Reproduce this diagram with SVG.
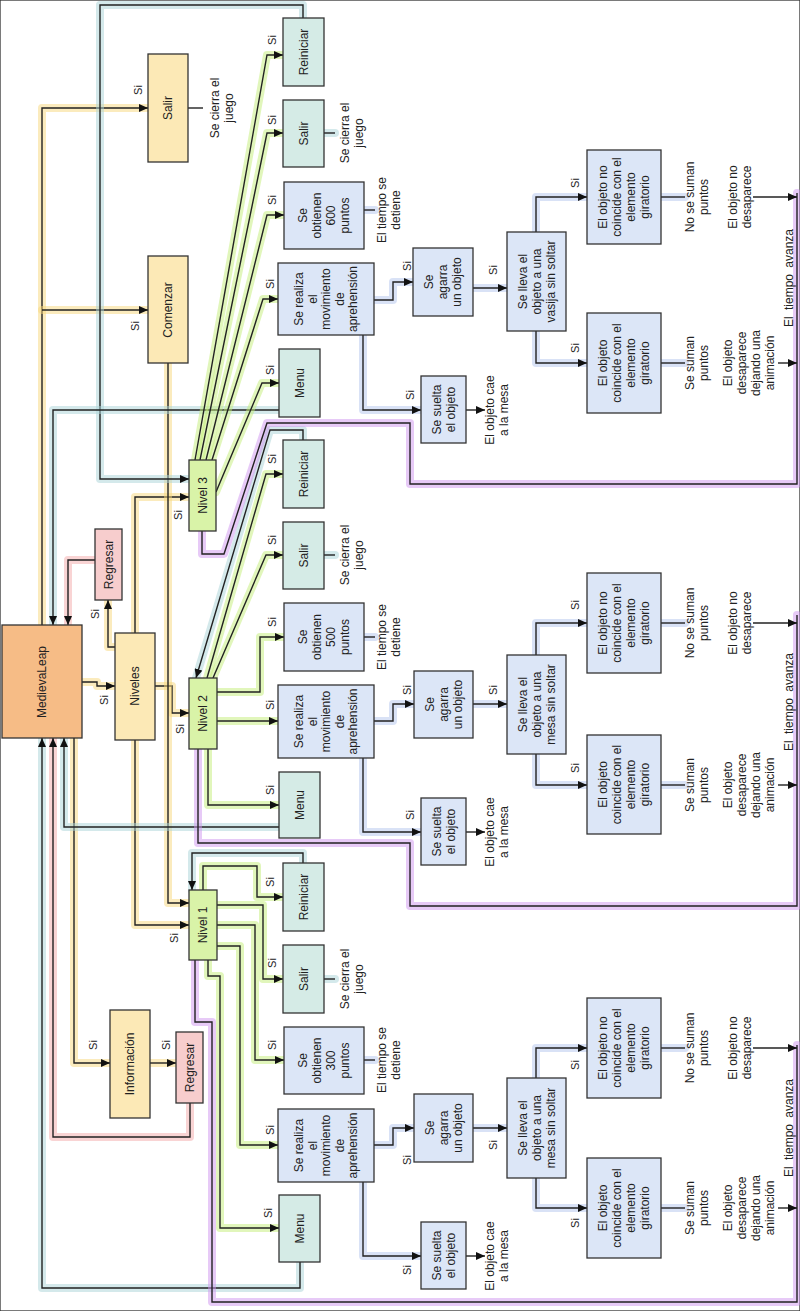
<svg xmlns="http://www.w3.org/2000/svg" width="800" height="1311" viewBox="0 0 800 1311">
<defs>
<marker id="a" markerUnits="userSpaceOnUse" markerWidth="9" markerHeight="8" refX="9" refY="4" orient="auto"><path d="M0,0 L9,4 L0,8 z" fill="#111"/></marker>
<style>
rect{stroke:#333;stroke-width:1.3}
.or{fill:#f6bc86}.ye{fill:#fce9b6}.pk{fill:#f7cdcd}.gr{fill:#d9f3a8}.te{fill:#d5ebe6}.bl{fill:#dce6f7}
text{font-family:"Liberation Sans",Arial,sans-serif;font-size:12px;fill:#222;text-anchor:middle}
.si{font-size:11px}
.gl{fill:none;stroke-width:8;stroke-opacity:0.5;stroke-linejoin:round;stroke-linecap:round}
.gy{stroke:#f7d77c}.gg{stroke:#c3ee78}.gt{stroke:#a9d3d8}.gp{stroke:#f3a9a9}.gv{stroke:#cf96ef}.gb{stroke:#b3c5ee}
.ln{fill:none;stroke:#222;stroke-width:1.4;stroke-linejoin:miter}
.ar{marker-end:url(#a)}
</style>
</defs>
<rect x="0" y="0" width="800" height="1311" fill="#fff" stroke="none"/>

<g id="connectors">
<!-- yellow -->
<path class="gl gy" d="M42,625 V108 H148"/><path class="ln ar" d="M42,625 V108 H148"/>
<path class="gl gy" d="M42,310 H148"/><path class="ln ar" d="M42,310 H148"/>
<path class="gl gy" d="M82,682 H97 V686 H115"/><path class="ln ar" d="M82,682 H97 V686 H115"/>
<path class="gl gy" d="M115,647 H108 V600"/><path class="ln ar" d="M115,647 H108 V600"/>
<path class="gl gy" d="M135,633 V497 H189"/><path class="ln ar" d="M135,633 V497 H189"/>
<path class="gl gy" d="M155,686 H172 V713 H189"/><path class="ln ar" d="M155,686 H172 V713 H189"/>
<path class="gl gy" d="M135,740 V925 H189"/><path class="ln ar" d="M135,740 V925 H189"/>
<path class="gl gy" d="M168,363 V903 H189"/><path class="ln ar" d="M168,363 V903 H189"/>
<path class="gl gy" d="M74,738 V1063 H110"/><path class="ln ar" d="M74,738 V1063 H110"/>
<path class="gl gy" d="M150,1063 H176"/><path class="ln ar" d="M150,1063 H176"/>
<!-- pink -->
<path class="gl gp" d="M95,560 H68 V625"/><path class="ln ar" d="M95,560 H68 V625"/>
<path class="gl gp" d="M190,1103 V1137 H53 V738"/><path class="ln ar" d="M190,1103 V1137 H53 V738"/>
<!-- teal -->
<path class="gl gt" d="M303,18 V5 H100 V479 H189"/><path class="ln ar" d="M303,18 V5 H100 V479 H189"/>
<path class="gl gt" d="M279,410 H53 V625"/><path class="ln ar" d="M279,410 H53 V625"/>
<path class="gl gt" d="M303,440 V430 H270 L196,678"/><path class="ln ar" d="M303,440 V430 H270 L196,678"/>
<path class="gl gt" d="M279,827 H64 V738"/><path class="ln ar" d="M279,827 H64 V738"/>
<path class="gl gt" d="M303,863 V853 H192 V890"/><path class="ln ar" d="M303,863 V853 H192 V890"/>
<path class="gl gt" d="M300,1262 V1288 H42 V738"/><path class="ln ar" d="M300,1262 V1288 H42 V738"/>
<!-- green L3 -->
<path class="gl gg" d="M195,460 L267,55 H283"/><path class="ln ar" d="M195,460 L267,55 H283"/>
<path class="gl gg" d="M200,460 L267,133 H283"/><path class="ln ar" d="M200,460 L267,133 H283"/>
<path class="gl gg" d="M206,460 L267,215 H284"/><path class="ln ar" d="M206,460 L267,215 H284"/>
<path class="gl gg" d="M212,460 L263,299 H278"/><path class="ln ar" d="M212,460 L263,299 H278"/>
<path class="gl gg" d="M216,492 L262,383 H279"/><path class="ln ar" d="M216,492 L262,383 H279"/>
<!-- green L2 -->
<path class="gl gg" d="M207,678 L266,474 H283"/><path class="ln ar" d="M207,678 L266,474 H283"/>
<path class="gl gg" d="M213,678 L266,555 H283"/><path class="ln ar" d="M213,678 L266,555 H283"/>
<path class="gl gg" d="M217,692 H260 V637 H284"/><path class="ln ar" d="M217,692 H260 V637 H284"/>
<path class="gl gg" d="M217,721 H278"/><path class="ln ar" d="M217,721 H278"/>
<path class="gl gg" d="M208,749 V805 H279"/><path class="ln ar" d="M208,749 V805 H279"/>
<!-- green L1 -->
<path class="gl gg" d="M203,890 V866 H257 V897 H283"/><path class="ln ar" d="M203,890 V866 H257 V897 H283"/>
<path class="gl gg" d="M217,905 H263 V979 H283"/><path class="ln ar" d="M217,905 H263 V979 H283"/>
<path class="gl gg" d="M217,925 H255 V1060 H284"/><path class="ln ar" d="M217,925 H255 V1060 H284"/>
<path class="gl gg" d="M217,946 H240 V1145 H278"/><path class="ln ar" d="M217,946 H240 V1145 H278"/>
<path class="gl gg" d="M208,960 V976 H220 V1228 H279"/><path class="ln ar" d="M208,960 V976 H220 V1228 H279"/>
<!-- purple -->
<path class="gl gv" d="M202,531 V554 H224 L267,423 H410 V484 H797 V193"/><path class="ln" d="M202,531 V554 H224 L267,423 H410 V484 H797 V193"/>
<path class="gl gv" d="M198,749 V843 H410 V906 H797 V615"/><path class="ln" d="M198,749 V843 H410 V906 H797 V615"/>
<path class="gl gv" d="M195,960 V1022 H212 V1302 H797 V1045"/><path class="ln" d="M195,960 V1022 H212 V1302 H797 V1045"/>
<!-- blue L3 -->
<path class="gl gb" d="M374,300 H393 V282 H413"/><path class="ln ar" d="M374,300 H393 V282 H413"/>
<path class="gl gb" d="M473,288 H507"/><path class="ln ar" d="M473,288 H507"/>
<path class="gl gb" d="M536,232 V197 H587"/><path class="ln ar" d="M536,232 V197 H587"/>
<path class="gl gb" d="M536,331 V363 H587"/><path class="ln ar" d="M536,331 V363 H587"/>
<path class="gl gb" d="M363,335 V410 H421"/><path class="ln ar" d="M363,335 V410 H421"/>
<path class="ln ar" d="M466,410 H485"/>
<path class="gl gb" d="M661,197 H685"/><path class="ln" d="M661,197 H685"/>
<path class="ln ar" d="M753,197 H797"/>
<path class="gl gb" d="M661,363 H685"/><path class="ln" d="M661,363 H685"/>
<path class="ln ar" d="M778,363 H797"/>
<path class="gl gb" d="M364,210 H375"/><path class="ln" d="M364,210 H375"/>
<path class="gl gt" d="M324,133 H335"/><path class="ln" d="M324,133 H335"/>
<path class="ln" d="M188,108 H203"/>
<!-- blue L2 -->
<path class="gl gb" d="M374,721 H393 V704 H414"/><path class="ln ar" d="M374,721 H393 V704 H414"/>
<path class="gl gb" d="M473,704 H507"/><path class="ln ar" d="M473,704 H507"/>
<path class="gl gb" d="M536,655 V623 H587"/><path class="ln ar" d="M536,655 V623 H587"/>
<path class="gl gb" d="M536,754 V785 H587"/><path class="ln ar" d="M536,754 V785 H587"/>
<path class="gl gb" d="M363,758 V832 H421"/><path class="ln ar" d="M363,758 V832 H421"/>
<path class="ln ar" d="M466,832 H485"/>
<path class="gl gb" d="M661,623 H685"/><path class="ln" d="M661,623 H685"/>
<path class="ln ar" d="M753,623 H797"/>
<path class="gl gb" d="M661,785 H685"/><path class="ln" d="M661,785 H685"/>
<path class="ln ar" d="M778,785 H797"/>
<path class="gl gb" d="M364,637 H375"/><path class="ln" d="M364,637 H375"/>
<path class="gl gt" d="M324,555 H335"/><path class="ln" d="M324,555 H335"/>
<!-- blue L1 -->
<path class="gl gb" d="M374,1145 H393 V1128 H414"/><path class="ln ar" d="M374,1145 H393 V1128 H414"/>
<path class="gl gb" d="M473,1128 H507"/><path class="ln ar" d="M473,1128 H507"/>
<path class="gl gb" d="M536,1078 V1048 H587"/><path class="ln ar" d="M536,1078 V1048 H587"/>
<path class="gl gb" d="M536,1178 V1208 H587"/><path class="ln ar" d="M536,1178 V1208 H587"/>
<path class="gl gb" d="M363,1182 V1256 H421"/><path class="ln ar" d="M363,1182 V1256 H421"/>
<path class="ln ar" d="M466,1256 H485"/>
<path class="gl gb" d="M661,1048 H685"/><path class="ln" d="M661,1048 H685"/>
<path class="ln ar" d="M753,1048 H797"/>
<path class="gl gb" d="M661,1208 H685"/><path class="ln" d="M661,1208 H685"/>
<path class="ln ar" d="M778,1208 H797"/>
<path class="gl gb" d="M364,1060 H375"/><path class="ln" d="M364,1060 H375"/>
<path class="gl gt" d="M324,979 H335"/><path class="ln" d="M324,979 H335"/>
</g>

<!-- main nodes -->
<g id="n-medievaleap"><rect class="or" x="2" y="625" width="80" height="113"/><text transform="translate(42,682) rotate(-90)"><tspan x="0" y="4">MedievaLeap</tspan></text></g>
<g id="n-salir"><rect class="ye" x="148" y="54" width="40" height="108"/><text transform="translate(168,108) rotate(-90)"><tspan x="0" y="4">Salir</tspan></text></g>
<g id="n-comenzar"><rect class="ye" x="148" y="256" width="40" height="107"/><text transform="translate(168,310) rotate(-90)"><tspan x="0" y="4">Comenzar</tspan></text></g>
<g id="n-niveles"><rect class="ye" x="115" y="633" width="40" height="107"/><text transform="translate(135,686) rotate(-90)"><tspan x="0" y="4">Niveles</tspan></text></g>
<g id="n-regresar1"><rect class="pk" x="95" y="529" width="27" height="71"/><text transform="translate(108.5,564.5) rotate(-90)"><tspan x="0" y="4">Regresar</tspan></text></g>
<g id="n-informacion"><rect class="ye" x="110" y="1010" width="40" height="108"/><text transform="translate(130,1064) rotate(-90)"><tspan x="0" y="4">Información</tspan></text></g>
<g id="n-regresar2"><rect class="pk" x="176" y="1032" width="27" height="71"/><text transform="translate(189.5,1067.5) rotate(-90)"><tspan x="0" y="4">Regresar</tspan></text></g>
<g id="n-nivel3"><rect class="gr" x="189" y="460" width="27" height="71"/><text transform="translate(202.5,495.5) rotate(-90)"><tspan x="0" y="4">Nivel 3</tspan></text></g>
<g id="n-nivel2"><rect class="gr" x="189" y="678" width="28" height="71"/><text transform="translate(203,713.5) rotate(-90)"><tspan x="0" y="4">Nivel 2</tspan></text></g>
<g id="n-nivel1"><rect class="gr" x="189" y="890" width="28" height="70"/><text transform="translate(203,925) rotate(-90)"><tspan x="0" y="4">Nivel 1</tspan></text></g>

<!-- level 3 -->
<g id="n3-reiniciar"><rect class="te" x="283" y="18" width="41" height="68"/><text transform="translate(303.5,52) rotate(-90)"><tspan x="0" y="4">Reiniciar</tspan></text></g>
<g id="n3-salir"><rect class="te" x="283" y="100" width="41" height="67"/><text transform="translate(303.5,133.5) rotate(-90)"><tspan x="0" y="4">Salir</tspan></text></g>
<g id="n3-puntos"><rect class="bl" x="284" y="182" width="80" height="67"/><text transform="translate(324,215.5) rotate(-90)"><tspan x="0" y="-17">Se</tspan><tspan x="0" y="-3">obtienen</tspan><tspan x="0" y="11">600</tspan><tspan x="0" y="25">puntos</tspan></text></g>
<g id="n3-aprehension"><rect class="bl" x="278" y="263" width="96" height="72"/><text transform="translate(326,299) rotate(-90)"><tspan x="0" y="-23">Se realiza</tspan><tspan x="0" y="-9.5">el</tspan><tspan x="0" y="4">movimiento</tspan><tspan x="0" y="17.5">de</tspan><tspan x="0" y="31">aprehensión</tspan></text></g>
<g id="n3-menu"><rect class="te" x="279" y="349" width="41" height="68"/><text transform="translate(299.5,383) rotate(-90)"><tspan x="0" y="4">Menu</tspan></text></g>
<g id="n3-agarra"><rect class="bl" x="413" y="248" width="60" height="68"/><text transform="translate(443,282) rotate(-90)"><tspan x="0" y="-10">Se</tspan><tspan x="0" y="4">agarra</tspan><tspan x="0" y="18">un objeto</tspan></text></g>
<g id="n3-suelta"><rect class="bl" x="421" y="376" width="45" height="67"/><text transform="translate(443.5,409.5) rotate(-90)"><tspan x="0" y="-3">Se suelta</tspan><tspan x="0" y="11">el objeto</tspan></text></g>
<g id="n3-lleva"><rect class="bl" x="507" y="232" width="59" height="99"/><text transform="translate(536.5,281.5) rotate(-90)"><tspan x="0" y="-10">Se lleva el</tspan><tspan x="0" y="4">objeto a una</tspan><tspan x="0" y="18">vasija sin soltar</tspan></text></g>
<g id="n3-nocoincide"><rect class="bl" x="587" y="150" width="74" height="94"/><text transform="translate(624,197) rotate(-90)"><tspan x="0" y="-17">El objeto no</tspan><tspan x="0" y="-3">coincide con el</tspan><tspan x="0" y="11">elemento</tspan><tspan x="0" y="25">giratorio</tspan></text></g>
<g id="n3-coincide"><rect class="bl" x="587" y="313" width="74" height="100"/><text transform="translate(624,363) rotate(-90)"><tspan x="0" y="-17">El objeto</tspan><tspan x="0" y="-3">coincide con el</tspan><tspan x="0" y="11">elemento</tspan><tspan x="0" y="25">giratorio</tspan></text></g>

<!-- level 2 -->
<g id="n2-reiniciar"><rect class="te" x="283" y="440" width="41" height="68"/><text transform="translate(303.5,474) rotate(-90)"><tspan x="0" y="4">Reiniciar</tspan></text></g>
<g id="n2-salir"><rect class="te" x="283" y="522" width="41" height="67"/><text transform="translate(303.5,555.5) rotate(-90)"><tspan x="0" y="4">Salir</tspan></text></g>
<g id="n2-puntos"><rect class="bl" x="284" y="603" width="80" height="68"/><text transform="translate(324,637) rotate(-90)"><tspan x="0" y="-17">Se</tspan><tspan x="0" y="-3">obtienen</tspan><tspan x="0" y="11">500</tspan><tspan x="0" y="25">puntos</tspan></text></g>
<g id="n2-aprehension"><rect class="bl" x="278" y="685" width="96" height="73"/><text transform="translate(326,721.5) rotate(-90)"><tspan x="0" y="-23">Se realiza</tspan><tspan x="0" y="-9.5">el</tspan><tspan x="0" y="4">movimiento</tspan><tspan x="0" y="17.5">de</tspan><tspan x="0" y="31">aprehensión</tspan></text></g>
<g id="n2-menu"><rect class="te" x="279" y="772" width="41" height="66"/><text transform="translate(299.5,805) rotate(-90)"><tspan x="0" y="4">Menu</tspan></text></g>
<g id="n2-agarra"><rect class="bl" x="414" y="671" width="59" height="67"/><text transform="translate(443.5,704.5) rotate(-90)"><tspan x="0" y="-10">Se</tspan><tspan x="0" y="4">agarra</tspan><tspan x="0" y="18">un objeto</tspan></text></g>
<g id="n2-suelta"><rect class="bl" x="421" y="798" width="45" height="67"/><text transform="translate(443.5,831.5) rotate(-90)"><tspan x="0" y="-3">Se suelta</tspan><tspan x="0" y="11">el objeto</tspan></text></g>
<g id="n2-lleva"><rect class="bl" x="507" y="655" width="59" height="99"/><text transform="translate(536.5,704.5) rotate(-90)"><tspan x="0" y="-10">Se lleva el</tspan><tspan x="0" y="4">objeto a una</tspan><tspan x="0" y="18">mesa sin soltar</tspan></text></g>
<g id="n2-nocoincide"><rect class="bl" x="587" y="573" width="74" height="100"/><text transform="translate(624,623) rotate(-90)"><tspan x="0" y="-17">El objeto no</tspan><tspan x="0" y="-3">coincide con el</tspan><tspan x="0" y="11">elemento</tspan><tspan x="0" y="25">giratorio</tspan></text></g>
<g id="n2-coincide"><rect class="bl" x="587" y="735" width="74" height="99"/><text transform="translate(624,784.5) rotate(-90)"><tspan x="0" y="-17">El objeto</tspan><tspan x="0" y="-3">coincide con el</tspan><tspan x="0" y="11">elemento</tspan><tspan x="0" y="25">giratorio</tspan></text></g>

<!-- level 1 -->
<g id="n1-reiniciar"><rect class="te" x="283" y="863" width="41" height="68"/><text transform="translate(303.5,897) rotate(-90)"><tspan x="0" y="4">Reiniciar</tspan></text></g>
<g id="n1-salir"><rect class="te" x="283" y="945" width="41" height="68"/><text transform="translate(303.5,979) rotate(-90)"><tspan x="0" y="4">Salir</tspan></text></g>
<g id="n1-puntos"><rect class="bl" x="284" y="1027" width="80" height="67"/><text transform="translate(324,1060.5) rotate(-90)"><tspan x="0" y="-17">Se</tspan><tspan x="0" y="-3">obtienen</tspan><tspan x="0" y="11">300</tspan><tspan x="0" y="25">puntos</tspan></text></g>
<g id="n1-aprehension"><rect class="bl" x="278" y="1109" width="96" height="73"/><text transform="translate(326,1145.5) rotate(-90)"><tspan x="0" y="-23">Se realiza</tspan><tspan x="0" y="-9.5">el</tspan><tspan x="0" y="4">movimiento</tspan><tspan x="0" y="17.5">de</tspan><tspan x="0" y="31">aprehensión</tspan></text></g>
<g id="n1-menu"><rect class="te" x="279" y="1195" width="41" height="67"/><text transform="translate(299.5,1228.5) rotate(-90)"><tspan x="0" y="4">Menu</tspan></text></g>
<g id="n1-agarra"><rect class="bl" x="414" y="1094" width="59" height="68"/><text transform="translate(443.5,1128) rotate(-90)"><tspan x="0" y="-10">Se</tspan><tspan x="0" y="4">agarra</tspan><tspan x="0" y="18">un objeto</tspan></text></g>
<g id="n1-suelta"><rect class="bl" x="421" y="1222" width="45" height="67"/><text transform="translate(443.5,1255.5) rotate(-90)"><tspan x="0" y="-3">Se suelta</tspan><tspan x="0" y="11">el objeto</tspan></text></g>
<g id="n1-lleva"><rect class="bl" x="507" y="1078" width="59" height="100"/><text transform="translate(536.5,1128) rotate(-90)"><tspan x="0" y="-10">Se lleva el</tspan><tspan x="0" y="4">objeto a una</tspan><tspan x="0" y="18">mesa sin soltar</tspan></text></g>
<g id="n1-nocoincide"><rect class="bl" x="587" y="998" width="74" height="100"/><text transform="translate(624,1048) rotate(-90)"><tspan x="0" y="-17">El objeto no</tspan><tspan x="0" y="-3">coincide con el</tspan><tspan x="0" y="11">elemento</tspan><tspan x="0" y="25">giratorio</tspan></text></g>
<g id="n1-coincide"><rect class="bl" x="587" y="1158" width="74" height="100"/><text transform="translate(624,1208) rotate(-90)"><tspan x="0" y="-17">El objeto</tspan><tspan x="0" y="-3">coincide con el</tspan><tspan x="0" y="11">elemento</tspan><tspan x="0" y="25">giratorio</tspan></text></g>

<!-- free texts -->
<g id="labels">
<text transform="translate(222,108) rotate(-90)"><tspan x="0" y="-3">Se cierra el</tspan><tspan x="0" y="11">juego</tspan></text>
<text transform="translate(352,133) rotate(-90)"><tspan x="0" y="-3">Se cierra el</tspan><tspan x="0" y="11">juego</tspan></text>
<text transform="translate(352,555) rotate(-90)"><tspan x="0" y="-3">Se cierra el</tspan><tspan x="0" y="11">juego</tspan></text>
<text transform="translate(352,979) rotate(-90)"><tspan x="0" y="-3">Se cierra el</tspan><tspan x="0" y="11">juego</tspan></text>
<text transform="translate(389,210) rotate(-90)"><tspan x="0" y="-3">El tiempo se</tspan><tspan x="0" y="11">detiene</tspan></text>
<text transform="translate(389,637) rotate(-90)"><tspan x="0" y="-3">El tiempo se</tspan><tspan x="0" y="11">detiene</tspan></text>
<text transform="translate(389,1060) rotate(-90)"><tspan x="0" y="-3">El tiempo se</tspan><tspan x="0" y="11">detiene</tspan></text>
<text transform="translate(497,410) rotate(-90)"><tspan x="0" y="-3">El objeto cae</tspan><tspan x="0" y="11">a la mesa</tspan></text>
<text transform="translate(497,832) rotate(-90)"><tspan x="0" y="-3">El objeto cae</tspan><tspan x="0" y="11">a la mesa</tspan></text>
<text transform="translate(497,1256) rotate(-90)"><tspan x="0" y="-3">El objeto cae</tspan><tspan x="0" y="11">a la mesa</tspan></text>
<text transform="translate(697,197) rotate(-90)"><tspan x="0" y="-3">No se suman</tspan><tspan x="0" y="11">puntos</tspan></text>
<text transform="translate(697,623) rotate(-90)"><tspan x="0" y="-3">No se suman</tspan><tspan x="0" y="11">puntos</tspan></text>
<text transform="translate(697,1048) rotate(-90)"><tspan x="0" y="-3">No se suman</tspan><tspan x="0" y="11">puntos</tspan></text>
<text transform="translate(740,197) rotate(-90)"><tspan x="0" y="-3">El objeto no</tspan><tspan x="0" y="11">desaparece</tspan></text>
<text transform="translate(740,623) rotate(-90)"><tspan x="0" y="-3">El objeto no</tspan><tspan x="0" y="11">desaparece</tspan></text>
<text transform="translate(740,1048) rotate(-90)"><tspan x="0" y="-3">El objeto no</tspan><tspan x="0" y="11">desaparece</tspan></text>
<text transform="translate(697,363) rotate(-90)"><tspan x="0" y="-3">Se suman</tspan><tspan x="0" y="11">puntos</tspan></text>
<text transform="translate(697,785) rotate(-90)"><tspan x="0" y="-3">Se suman</tspan><tspan x="0" y="11">puntos</tspan></text>
<text transform="translate(697,1208) rotate(-90)"><tspan x="0" y="-3">Se suman</tspan><tspan x="0" y="11">puntos</tspan></text>
<text transform="translate(749,363) rotate(-90)"><tspan x="0" y="-17">El objeto</tspan><tspan x="0" y="-3">desaparece</tspan><tspan x="0" y="11">dejando una</tspan><tspan x="0" y="25">animación</tspan></text>
<text transform="translate(749,785) rotate(-90)"><tspan x="0" y="-17">El objeto</tspan><tspan x="0" y="-3">desaparece</tspan><tspan x="0" y="11">dejando una</tspan><tspan x="0" y="25">animación</tspan></text>
<text transform="translate(749,1208) rotate(-90)"><tspan x="0" y="-17">El objeto</tspan><tspan x="0" y="-3">desaparece</tspan><tspan x="0" y="11">dejando una</tspan><tspan x="0" y="25">animación</tspan></text>
<text transform="translate(789,278) rotate(-90)" word-spacing="3"><tspan x="0" y="4">El tiempo avanza</tspan></text>
<text transform="translate(789,702) rotate(-90)" word-spacing="3"><tspan x="0" y="4">El tiempo avanza</tspan></text>
<text transform="translate(789,1128) rotate(-90)" word-spacing="3"><tspan x="0" y="4">El tiempo avanza</tspan></text>
</g>

<g id="si-labels" class="si">
<text class="si" transform="translate(138,90) rotate(-90)"><tspan x="0" y="4">Si</tspan></text>
<text class="si" transform="translate(135,326) rotate(-90)"><tspan x="0" y="4">Si</tspan></text>
<text class="si" transform="translate(95,614) rotate(-90)"><tspan x="0" y="4">Si</tspan></text>
<text class="si" transform="translate(104,700) rotate(-90)"><tspan x="0" y="4">Si</tspan></text>
<text class="si" transform="translate(178,515) rotate(-90)"><tspan x="0" y="4">Si</tspan></text>
<text class="si" transform="translate(180,729) rotate(-90)"><tspan x="0" y="4">Si</tspan></text>
<text class="si" transform="translate(174,938) rotate(-90)"><tspan x="0" y="4">Si</tspan></text>
<text class="si" transform="translate(93,1045) rotate(-90)"><tspan x="0" y="4">Si</tspan></text>
<text class="si" transform="translate(166,1045) rotate(-90)"><tspan x="0" y="4">Si</tspan></text>
<text class="si" transform="translate(272,40) rotate(-90)"><tspan x="0" y="4">Si</tspan></text>
<text class="si" transform="translate(272,120) rotate(-90)"><tspan x="0" y="4">Si</tspan></text>
<text class="si" transform="translate(272,200) rotate(-90)"><tspan x="0" y="4">Si</tspan></text>
<text class="si" transform="translate(270,284) rotate(-90)"><tspan x="0" y="4">Si</tspan></text>
<text class="si" transform="translate(270,370) rotate(-90)"><tspan x="0" y="4">Si</tspan></text>
<text class="si" transform="translate(407,266) rotate(-90)"><tspan x="0" y="4">Si</tspan></text>
<text class="si" transform="translate(493,270) rotate(-90)"><tspan x="0" y="4">Si</tspan></text>
<text class="si" transform="translate(410,395) rotate(-90)"><tspan x="0" y="4">Si</tspan></text>
<text class="si" transform="translate(575,183) rotate(-90)"><tspan x="0" y="4">Si</tspan></text>
<text class="si" transform="translate(575,348) rotate(-90)"><tspan x="0" y="4">Si</tspan></text>
<text class="si" transform="translate(272,459) rotate(-90)"><tspan x="0" y="4">Si</tspan></text>
<text class="si" transform="translate(272,540) rotate(-90)"><tspan x="0" y="4">Si</tspan></text>
<text class="si" transform="translate(272,622) rotate(-90)"><tspan x="0" y="4">Si</tspan></text>
<text class="si" transform="translate(270,705) rotate(-90)"><tspan x="0" y="4">Si</tspan></text>
<text class="si" transform="translate(270,790) rotate(-90)"><tspan x="0" y="4">Si</tspan></text>
<text class="si" transform="translate(407,690) rotate(-90)"><tspan x="0" y="4">Si</tspan></text>
<text class="si" transform="translate(493,690) rotate(-90)"><tspan x="0" y="4">Si</tspan></text>
<text class="si" transform="translate(410,815) rotate(-90)"><tspan x="0" y="4">Si</tspan></text>
<text class="si" transform="translate(575,605) rotate(-90)"><tspan x="0" y="4">Si</tspan></text>
<text class="si" transform="translate(575,768) rotate(-90)"><tspan x="0" y="4">Si</tspan></text>
<text class="si" transform="translate(270,882) rotate(-90)"><tspan x="0" y="4">Si</tspan></text>
<text class="si" transform="translate(272,963) rotate(-90)"><tspan x="0" y="4">Si</tspan></text>
<text class="si" transform="translate(272,1045) rotate(-90)"><tspan x="0" y="4">Si</tspan></text>
<text class="si" transform="translate(270,1130) rotate(-90)"><tspan x="0" y="4">Si</tspan></text>
<text class="si" transform="translate(268,1213) rotate(-90)"><tspan x="0" y="4">Si</tspan></text>
<text class="si" transform="translate(407,1160) rotate(-90)"><tspan x="0" y="4">Si</tspan></text>
<text class="si" transform="translate(493,1145) rotate(-90)"><tspan x="0" y="4">Si</tspan></text>
<text class="si" transform="translate(407,1270) rotate(-90)"><tspan x="0" y="4">Si</tspan></text>
<text class="si" transform="translate(575,1065) rotate(-90)"><tspan x="0" y="4">Si</tspan></text>
<text class="si" transform="translate(575,1223) rotate(-90)"><tspan x="0" y="4">Si</tspan></text>
</g>
</svg>
